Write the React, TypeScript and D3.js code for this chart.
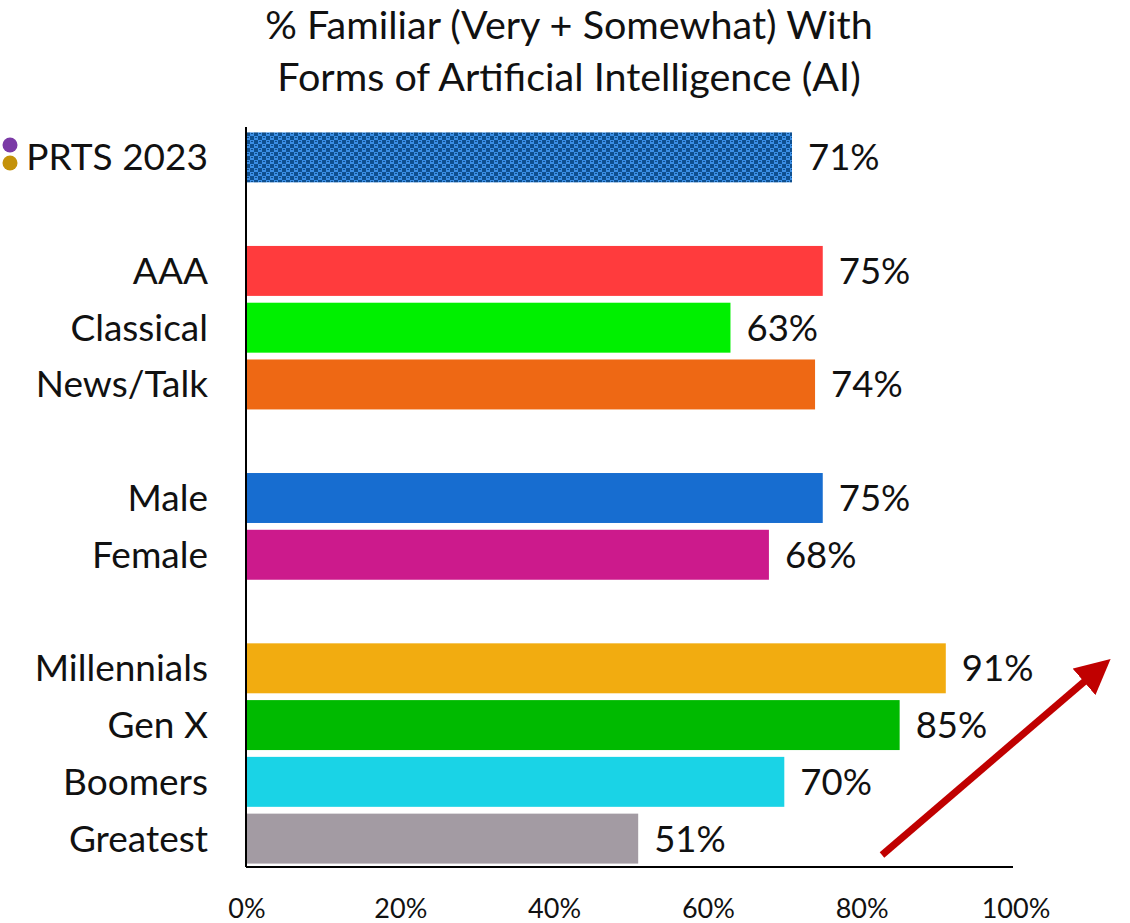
import React from "react";
import * as d3 from "d3";

const groups: string[][] = [
  ["PRTS 2023"],
  ["AAA", "Classical", "News/Talk"],
  ["Male", "Female"],
  ["Millennials", "Gen X", "Boomers", "Greatest"],
];
const categories = ["PRTS 2023", "AAA", "Classical", "News/Talk", "Male", "Female", "Millennials", "Gen X", "Boomers", "Greatest"];
const values = [71, 75, 63, 74, 75, 68, 91, 85, 70, 51];
const colors = ["url(#checker)", "#FF3B3D", "#00F000", "#EE6814", "#176DD0", "#CC1A8C", "#F2AC10", "#00BA00", "#1AD3E6", "#A39BA3"];
const xTicks = [0, 20, 40, 60, 80, 100];
const titleLines = ["% Familiar (Very + Somewhat) With", "Forms of Artificial Intelligence (AI)"];

const FONT = "Lato, 'Open Sans', sans-serif";

export default function App() {
  const W = 1130, H = 923;
  const left = 246, right = 1015;
  const top = 129, bottom = 867;

  const slots: string[] = [];
  groups.forEach((g, i) => {
    if (i > 0) slots.push(`__gap${i}`);
    g.forEach((c) => slots.push(c));
  });

  const x = d3.scaleLinear().domain([0, 100]).range([left, right]);
  const y = d3.scaleBand<string>().domain(slots).range([top, bottom]).paddingInner(0.12).paddingOuter(0.06);

  return (
    <svg width={W} height={H} style={{ display: "block", position: "absolute", left: 0, top: 0 }} fontFamily={FONT}>
      <defs>
        <pattern id="checker" width="8" height="8" patternUnits="userSpaceOnUse" x={left} y={0}>
          <rect width="8" height="8" fill="#0E4F8F" />
          <rect x="0" y="0" width="4" height="4" fill="#3B8FE6" />
          <rect x="4" y="4" width="4" height="4" fill="#3B8FE6" />
          <rect x="1" y="1" width="2" height="1" fill="#0E4F8F" />
          <rect x="5" y="5" width="2" height="1" fill="#0E4F8F" />
        </pattern>
        <marker id="arrowHead" viewBox="0 0 10 10" refX="3" refY="5" markerWidth="5" markerHeight="5" orient="auto">
          <path d="M0,0 L10,5 L0,10 z" fill="#C00000" />
        </marker>
      </defs>
      <rect width={W} height={H} fill="#fff" />

      {titleLines.map((t, i) => (
        <text key={i} x={569} y={39 + i * 52} textAnchor="middle" fontSize={39.5} fill="#111">
          {t}
        </text>
      ))}

      <circle cx={10} cy={145} r={7.5} fill="#7B3AA6" />
      <circle cx={10} cy={163} r={7.5} fill="#C4920A" />

      {categories.map((c, i) => {
        const by = y(c)!;
        const bh = y.bandwidth();
        return (
          <g key={c}>
            <rect x={x(0)} y={by} width={x(values[i]) - x(0)} height={bh} fill={colors[i]} />
            <text x={x(values[i]) + 16} y={by + bh / 2 + 13} fontSize={36.5} fill="#111">
              {values[i]}%
            </text>
            <text x={208} y={by + bh / 2 + 13} fontSize={37} textAnchor="end" fill="#111">
              {c}
            </text>
          </g>
        );
      })}

      <line x1={left} x2={left} y1={top - 2} y2={bottom} stroke="#000" strokeWidth={2} />
      <line x1={left} x2={right - 2} y1={bottom} y2={bottom} stroke="#000" strokeWidth={2} />

      {xTicks.map((t) => (
        <text key={t} x={x(t) + 1} y={918} textAnchor="middle" fontSize={27} fill="#111">
          {t}%
        </text>
      ))}

      <line x1={882} y1={855} x2={1092} y2={675} stroke="#C00000" strokeWidth={7} markerEnd="url(#arrowHead)" />
    </svg>
  );
}
